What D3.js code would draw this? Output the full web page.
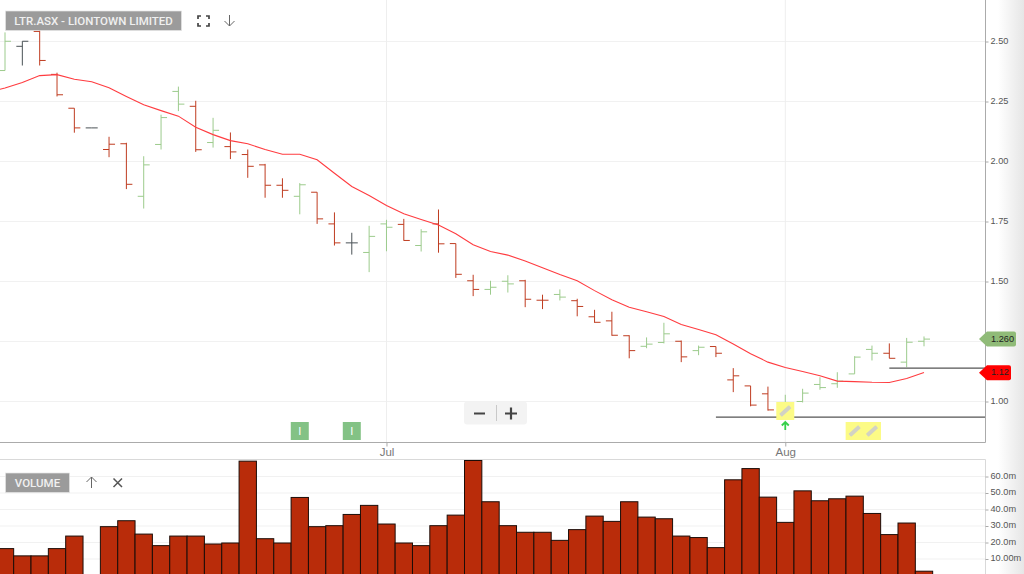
<!DOCTYPE html>
<html>
<head>
<meta charset="utf-8">
<script src="https://cdnjs.cloudflare.com/ajax/libs/d3/7.8.5/d3.min.js"></script>
<style>
  html, body { margin: 0; padding: 0; background: #fff; overflow: hidden; }
  svg { display: block; font-family: "Liberation Sans", Arial, sans-serif; }
</style>
</head>
<body>
<div id="chart"></div>
<script>
// daily bars
var opens = [2.379,2.480,2.542,2.363,2.222,2.140,2.050,2.074,1.855,2.071,2.292,2.230,2.079,2.062,2.029,1.986,1.901,1.855,1.872,1.740,1.661,1.621,1.740,1.738,1.650,1.740,1.658,1.503,1.467,1.501,1.503,1.422,1.446,1.420,1.353,1.336,1.274,1.230,1.246,1.251,1.212,1.229,1.090,1.065,1.032,0.962,1.000,1.071,1.074,1.115,1.217,1.201,1.164,1.251];
var highs = [2.538,2.501,2.554,2.370,2.222,2.140,2.103,2.078,2.022,2.195,2.312,2.253,2.182,2.121,2.050,1.990,1.930,1.910,1.872,1.788,1.703,1.732,1.757,1.761,1.718,1.800,1.658,1.528,1.503,1.526,1.507,1.445,1.467,1.428,1.382,1.374,1.276,1.267,1.328,1.254,1.233,1.229,1.139,1.065,1.062,1.028,1.053,1.101,1.122,1.189,1.233,1.242,1.265,1.271];
var lows = [2.379,2.400,2.400,2.271,2.120,2.140,2.018,1.885,1.804,2.050,2.210,2.040,2.058,2.010,1.932,1.849,1.849,1.780,1.740,1.650,1.612,1.539,1.626,1.670,1.625,1.620,1.515,1.439,1.445,1.454,1.393,1.385,1.421,1.355,1.328,1.274,1.180,1.222,1.242,1.164,1.193,1.185,1.039,0.980,0.962,0.937,0.996,1.049,1.057,1.115,1.171,1.180,1.143,1.230];
var closes = [2.501,2.501,2.421,2.278,2.140,2.140,2.072,1.905,1.986,2.183,2.239,2.049,2.130,2.040,1.980,1.901,1.880,1.903,1.761,1.661,1.661,1.688,1.726,1.671,1.707,1.657,1.530,1.467,1.476,1.490,1.426,1.422,1.435,1.396,1.330,1.276,1.212,1.239,1.282,1.186,1.226,1.201,1.107,0.985,0.965,0.980,1.035,1.058,1.085,1.185,1.201,1.180,1.247,1.260];
var priorClose = 2.40;

// volume in millions
var volumes = [16.3,11.9,11.9,16.3,23.9,0,29.6,33.2,25.1,18.1,23.9,23.9,19.1,19.7,69.3,22.3,19.7,47.3,29.6,30.2,37,42.5,31.2,19.7,18.1,30.2,36.6,69.7,44.7,30.2,26.2,26.2,21.3,27.8,36,32.8,44.7,35.4,34.4,23.9,23,16.9,58,64.8,47.5,32.2,51.3,45.3,46.5,48.1,37.6,24.8,31.8,2.6];

// moving average, first value belongs to the day before the first bar
var movingAvg = [2.288,2.306,2.329,2.358,2.362,2.343,2.332,2.307,2.271,2.236,2.212,2.189,2.143,2.112,2.087,2.074,2.050,2.030,2.030,2.007,1.951,1.896,1.858,1.817,1.782,1.758,1.735,1.699,1.653,1.625,1.610,1.585,1.557,1.529,1.503,1.462,1.424,1.393,1.374,1.354,1.321,1.300,1.278,1.240,1.199,1.164,1.142,1.125,1.107,1.085,1.083,1.080,1.079,1.096,1.121];

var priceGrid = [1.00,1.25,1.50,1.75,2.00,2.25,2.50];
var priceTicks = [1.00,1.50,1.75,2.00,2.25,2.50]; // 1.25 sits under the last price tag
var volumeTicks = [10,20,30,40,50,60];
var volumeTickLabels = ["10.00m","20.0m","30.0m","40.0m","50.0m","60.0m"];
var monthIndex = [22,45];
var monthLabels = ["Jul","Aug"];

var levelPrices = [0.935,1.139];
var levelStarts = [41,51];
var infoDays = [17,20];
var noteDays = [49,50];
var signalDay = 45;

var svgWidth = 1024;
var svgHeight = 574;
var paneRight = 985;
var paneBottom = 442;
var volTop = 459.5;

var xScale = d3.scaleLinear().domain([0, 53]).range([5, 924]);
var priceY = d3.scaleLinear().domain([2.5, 1]).range([41.5, 401.5]);
var volumeY = d3.scaleLinear().domain([0, 60]).range([575.5, 476.5]);
var barWidth = xScale(1) - xScale(0);

var upColor = "#9ccb8c";
var downColor = "#bf3c20";
var flatColor = "#4a5256";

var svg = d3.select("#chart").append("svg")
  .attr("width", svgWidth)
  .attr("height", svgHeight);

// soft shadow down the right edge
var defs = svg.append("defs");
var fade = defs.append("linearGradient").attr("id", "edgeFade");
fade.append("stop").attr("offset", "0").attr("stop-color", "#fff");
fade.append("stop").attr("offset", "1").attr("stop-color", "#e6e6e6");
defs.append("clipPath").attr("id", "mainClip").append("rect")
  .attr("width", paneRight).attr("height", paneBottom);

svg.append("rect")
  .attr("x", 998).attr("width", 26).attr("height", svgHeight)
  .attr("fill", "url(#edgeFade)");

// gridlines
svg.append("g").selectAll("line")
  .data(priceGrid)
  .enter().append("line")
  .attr("x1", 0).attr("x2", paneRight)
  .attr("y1", d => priceY(d)).attr("y2", d => priceY(d))
  .attr("stroke", "#f1f1f1");

svg.append("g").selectAll("line")
  .data(monthIndex)
  .enter().append("line")
  .attr("x1", d => xScale(d)).attr("x2", d => xScale(d))
  .attr("y1", 0).attr("y2", paneBottom)
  .attr("stroke", "#eeeeee");

svg.append("g").selectAll("line")
  .data(volumeTicks)
  .enter().append("line")
  .attr("x1", 0).attr("x2", paneRight)
  .attr("y1", d => volumeY(d)).attr("y2", d => volumeY(d))
  .attr("stroke", "#f1f1f1");

// price bars
var main = svg.append("g").attr("clip-path", "url(#mainClip)");

function barColor(i) {
  var prev = i === 0 ? priorClose : closes[i - 1];
  if (closes[i] > prev) return upColor;
  if (closes[i] < prev) return downColor;
  return flatColor;
}

var bars = main.selectAll("g.bar")
  .data(d3.range(opens.length))
  .enter().append("g")
  .attr("class", "bar")
  .attr("stroke", i => barColor(i));

bars.append("line")
  .attr("x1", i => xScale(i)).attr("x2", i => xScale(i))
  .attr("y1", i => priceY(highs[i])).attr("y2", i => priceY(lows[i]));
bars.append("line")
  .attr("x1", i => xScale(i) - 6).attr("x2", i => xScale(i))
  .attr("y1", i => priceY(opens[i])).attr("y2", i => priceY(opens[i]));
bars.append("line")
  .attr("x1", i => xScale(i)).attr("x2", i => xScale(i) + 6)
  .attr("y1", i => priceY(closes[i])).attr("y2", i => priceY(closes[i]));

// moving average
var maLine = d3.line()
  .x((d, i) => xScale(i - 1))
  .y(d => priceY(d));

main.append("path")
  .datum(movingAvg)
  .attr("d", maLine)
  .attr("fill", "none")
  .attr("stroke", "#ff3c40")
  .attr("stroke-width", 1.1);

// horizontal levels
svg.append("g").selectAll("line")
  .data(levelPrices)
  .enter().append("line")
  .attr("x1", (d, i) => xScale(levelStarts[i]))
  .attr("x2", paneRight)
  .attr("y1", d => priceY(d)).attr("y2", d => priceY(d))
  .attr("stroke", "#555")
  .attr("stroke-width", 1.4);

// pane borders
svg.append("path")
  .attr("d", `M${paneRight + 0.5},0V${paneBottom + 0.5}H0`)
  .attr("fill", "none").attr("stroke", "#ababab").attr("stroke-width", 1);
svg.append("path")
  .attr("d", `M0,${volTop}H${paneRight + 0.5}V${svgHeight}`)
  .attr("fill", "none").attr("stroke", "#d9d9d9").attr("stroke-width", 1);

// axes
var priceAxis = d3.axisRight(priceY)
  .tickValues(priceTicks)
  .tickFormat(d3.format(".2f"))
  .tickSize(3)
  .tickPadding(2);

var priceG = svg.append("g")
  .attr("transform", `translate(${paneRight + 0.5},0)`)
  .call(priceAxis);

var volumeAxis = d3.axisRight(volumeY)
  .tickValues(volumeTicks)
  .tickFormat((d, i) => volumeTickLabels[i])
  .tickSize(3)
  .tickPadding(2);

var volumeG = svg.append("g")
  .attr("transform", `translate(${paneRight + 0.5},0)`)
  .call(volumeAxis);

var monthAxis = d3.axisBottom(xScale)
  .tickValues(monthIndex)
  .tickFormat((d, i) => monthLabels[i])
  .tickSize(4)
  .tickPadding(1);

var monthG = svg.append("g")
  .attr("transform", `translate(0,${paneBottom + 0.5})`)
  .call(monthAxis);

[priceG, volumeG, monthG].forEach(function(g) {
  g.select(".domain").remove();
  g.selectAll("line").attr("stroke", "#aaa");
  g.selectAll("text").attr("fill", "#555").style("font-size", "9.2px")
    .style("font-family", '"Liberation Sans", Arial, sans-serif');
});
priceG.selectAll("text").attr("y", -1);
volumeG.selectAll("text").attr("y", -1);
monthG.selectAll("text").style("font-size", "11.5px").attr("fill", "#777");

// volume bars
svg.append("g").selectAll("rect")
  .data(d3.range(volumes.length).filter(i => volumes[i] > 0))
  .enter().append("rect")
  .attr("x", i => xScale(i) - barWidth / 2)
  .attr("y", i => volumeY(volumes[i]))
  .attr("width", barWidth)
  .attr("height", i => volumeY(0) - volumeY(volumes[i]))
  .attr("fill", "#b92c0a")
  .attr("stroke", "#1c0d08")
  .attr("stroke-width", 1);

// price tags on the axis
function priceTag(price, label, right, fill) {
  var y = priceY(price);
  svg.append("path")
    .attr("d", `M979,${y}L987,${y - 7.5}H${right - 2}Q${right},${y - 7.5} ${right},${y - 5.5}V${y + 5.5}Q${right},${y + 7.5} ${right - 2},${y + 7.5}H987Z`)
    .attr("fill", fill);
  svg.append("text")
    .attr("x", 991).attr("y", y + 2.7)
    .attr("font-size", "9.2px")
    .attr("fill", "#222")
    .text(label);
}
priceTag(1.26, "1.260", 1016, "#90bb78");
priceTag(1.12, "1.12", 1011, "#ff0000");

// info markers
var info = svg.append("g").selectAll("g")
  .data(infoDays)
  .enter().append("g")
  .attr("transform", d => `translate(${xScale(d)},431)`);
info.append("rect")
  .attr("x", -9).attr("y", -9).attr("width", 18).attr("height", 18)
  .attr("fill", "#83c285");
info.append("text")
  .attr("text-anchor", "middle").attr("y", 4)
  .attr("font-size", "11px").attr("fill", "#fff")
  .text("I");

// note markers
function noteMarker(day, cy) {
  var g = svg.append("g").attr("transform", `translate(${xScale(day)},${cy})`);
  g.append("rect")
    .attr("x", -9).attr("y", -9).attr("width", 18).attr("height", 18)
    .attr("fill", "#fcfb86");
  g.append("rect")
    .attr("x", -6.5).attr("y", -2).attr("width", 13).attr("height", 4)
    .attr("rx", 0.6)
    .attr("transform", "rotate(-42)")
    .attr("fill", "#d2d2c4");
}
noteMarker(signalDay, 411);
noteDays.forEach(d => noteMarker(d, 431));

// entry arrow
svg.append("path")
  .attr("d", `M${xScale(signalDay)},430V422M${xScale(signalDay) - 3.5},425.5L${xScale(signalDay)},422L${xScale(signalDay) + 3.5},425.5`)
  .attr("fill", "none")
  .attr("stroke", "#35d04a")
  .attr("stroke-width", 1.8);

// title boxes
function titleBox(x, y, w, h, label) {
  svg.append("rect")
    .attr("x", x).attr("y", y).attr("width", w).attr("height", h)
    .attr("fill", "#9b9b9b")
    .attr("stroke", "#e4e4e4")
    .attr("stroke-width", 0.7);
  svg.append("text")
    .attr("x", x + w / 2).attr("y", y + h / 2 + 4)
    .attr("text-anchor", "middle")
    .attr("font-family", "Roboto, sans-serif")
    .attr("font-size", "11.5px")
    .attr("font-weight", 500)
    .attr("fill", "#f0f0f0")
    .text(label);
}
titleBox(5.5, 11, 176, 19.5, "LTR.ASX - LIONTOWN LIMITED");
titleBox(5.5, 473, 64, 19.5, "VOLUME");

// little toolbar icons
svg.append("path")
  .attr("d", "M198,19V16H201M206,16H209V19M209,23V26H206M201,26H198V23")
  .attr("fill", "none").attr("stroke", "#444").attr("stroke-width", 1.7);
svg.append("path")
  .attr("d", "M229.5,15V26M224.5,21L229.5,26L234.5,21")
  .attr("fill", "none").attr("stroke", "#666").attr("stroke-width", 1);
svg.append("path")
  .attr("d", "M91.5,488V477M86.5,482L91.5,477L96.5,482")
  .attr("fill", "none").attr("stroke", "#666").attr("stroke-width", 1);
svg.append("path")
  .attr("d", "M113.5,478.5L122,487M122,478.5L113.5,487")
  .attr("fill", "none").attr("stroke", "#555").attr("stroke-width", 1.5);

// zoom control
svg.append("rect")
  .attr("x", 464).attr("y", 401.5).attr("width", 63).attr("height", 23).attr("rx", 3)
  .attr("fill", "#f3f3f3");
svg.append("line")
  .attr("x1", 496.5).attr("x2", 496.5).attr("y1", 405).attr("y2", 421)
  .attr("stroke", "#c9c9c9");
svg.append("path")
  .attr("d", "M474,413.5H485M505,413.5H517M511,407.5V419.5")
  .attr("fill", "none").attr("stroke", "#444").attr("stroke-width", 2.2);
</script>
</body>
</html>
